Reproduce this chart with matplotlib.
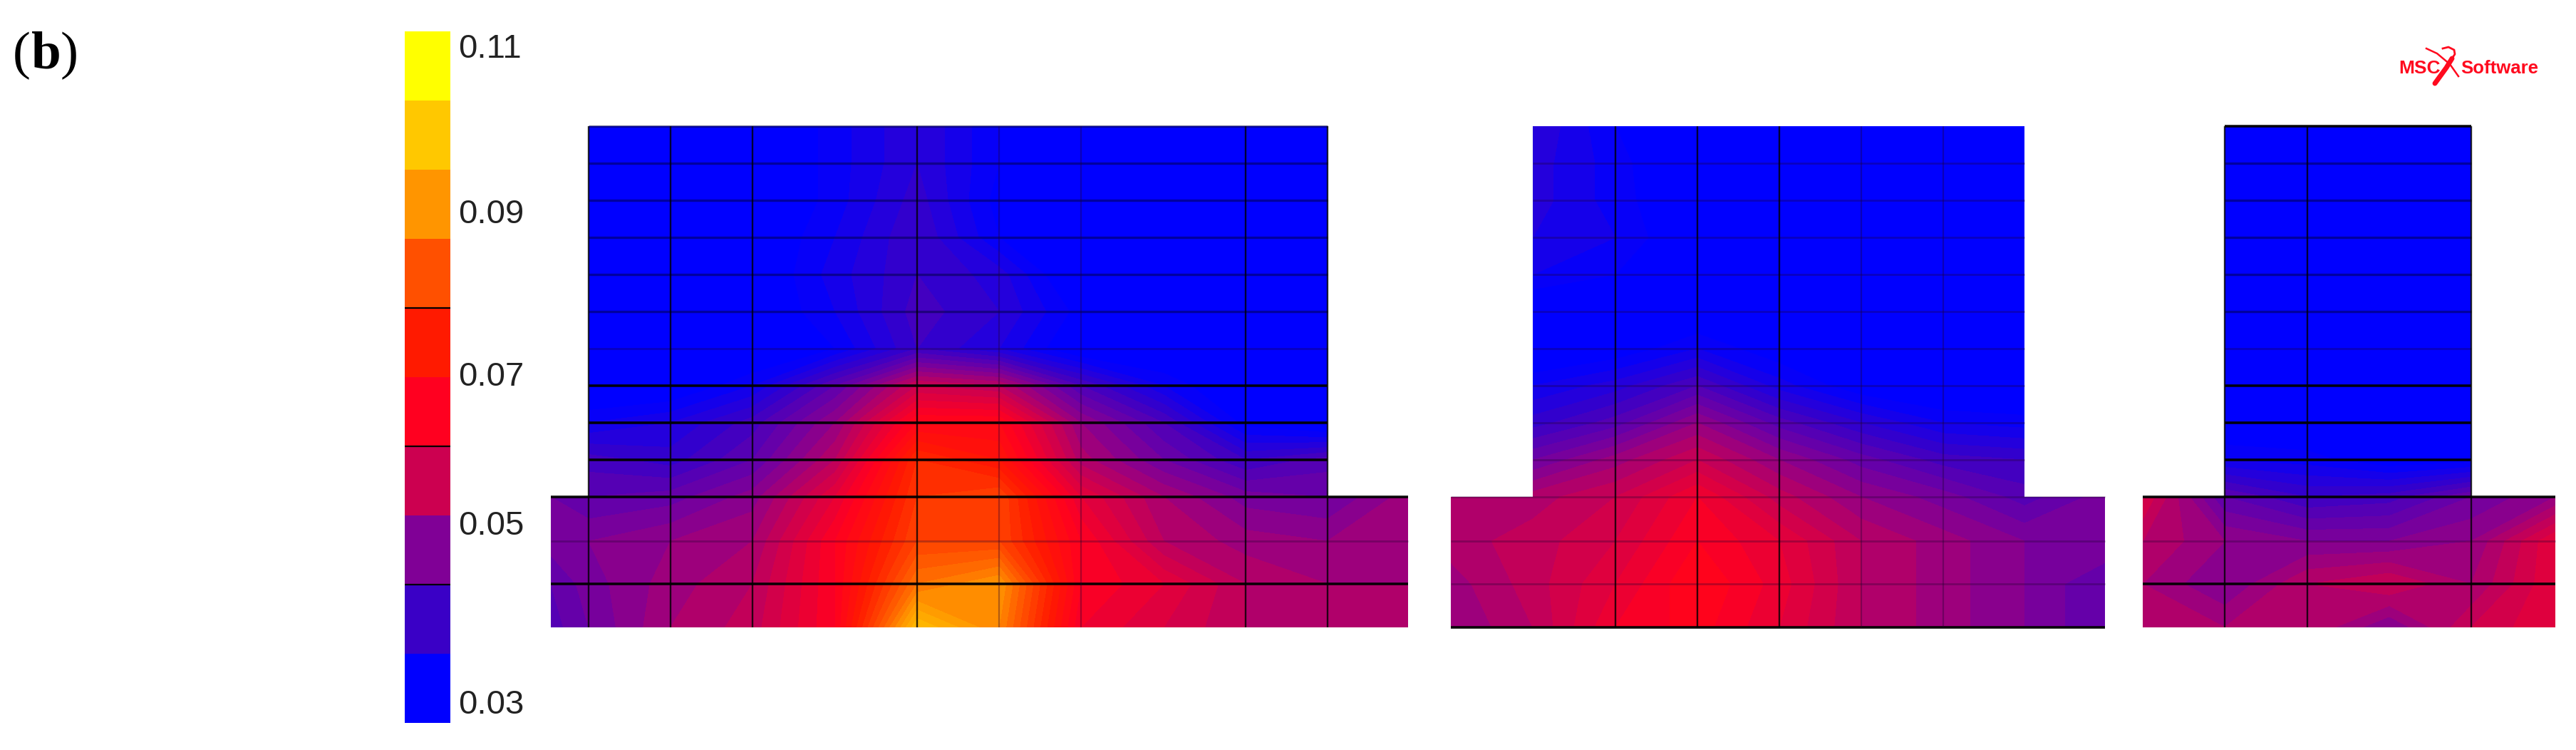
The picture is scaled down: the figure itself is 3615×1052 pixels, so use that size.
import numpy as np
import matplotlib
matplotlib.use("Agg")
import matplotlib.pyplot as plt
from matplotlib.colors import LinearSegmentedColormap

# Legend
band_colors = ["#0000ff", "#3a00c6", "#800096", "#cc0050", "#ff0020",
               "#ff1a00", "#ff5000", "#ff9500", "#ffc800", "#ffff00"]
band_edges = [0.03, 0.038, 0.046, 0.054, 0.062, 0.07, 0.078, 0.086, 0.094, 0.102, 0.11]
tick_labels = ["0.03", "0.05", "0.07", "0.09", "0.11"]
tick_values = [0.0321, 0.0528, 0.07, 0.0888, 0.1079]
dark_edges = [0.046, 0.062, 0.078]

# Mesh 1 (wide wall, long flange)
x1 = [0, 53, 168, 283, 399, 514, 629, 744, 860, 975, 1090, 1203]
y1_flange = [0, 61, 121, 183]
y1_web = [183, 235, 287, 339, 391, 443, 495, 547, 599, 651, 703]
flange1 = [
    [.045, .048, .054, .057, .066, .096, .088, .064, .060, .056, .055, .055],
    [.046, .049, .053, .056, .066, .086, .090, .066, .062, .056, .054, .054],
    [.049, .050, .052, .054, .066, .080, .080, .066, .056, .053, .052, .053],
    [.048, .046, .047, .051, .062, .078, .080, .062, .054, .049, .048, .053],
]
web1 = [
    [.043, .041, .046, .056, .076, .072, .055, .048, .042, .045],
    [.036, .038, .043, .052, .068, .068, .052, .044, .033, .030],
    [.030, .031, .036, .046, .058, .056, .044, .036, .030, .030],
    [.030, .030, .030, .034, .042, .038, .031, .030, .030, .030],
    [.030, .030, .031, .036, .043, .040, .033, .030, .030, .030],
    [.030, .030, .031, .037, .042, .039, .030, .030, .030, .030],
    [.030, .030, .031, .036, .042, .034, .030, .030, .030, .030],
    [.030, .030, .030, .035, .041, .033, .030, .030, .030, .030],
    [.030, .030, .030, .035, .040, .034, .031, .030, .030, .030],
    [.030, .030, .030, .035, .040, .034, .031, .030, .030, .030],
]
v1_dark = [53, 168, 283, 514, 975, 1090]
v1_faint = [629, 744]
h1_dark = [61, 183, 235, 287, 339]
h1_mid = [443, 495, 547, 599, 651, 703]
h1_faint = [121, 391]

# Mesh 2 (middle wall)
x2 = [0, 115, 231, 346, 461, 576, 691, 805, 918]
y2_flange = [0, 61, 121, 183]
y2_web = [183, 235, 287, 339, 391, 443, 495, 547, 599, 651, 703]
flange2 = [
    [.052, .056, .064, .067, .062, .056, .053, .050, .046],
    [.053, .057, .062, .068, .063, .056, .053, .050, .046],
    [.055, .057, .060, .066, .062, .056, .053, .050, .050],
    [.055, .055, .058, .064, .057, .052, .049, .045, .049],
]
web2 = [
    [.048, .053, .058, .052, .047, .043, .042],
    [.041, .045, .052, .045, .040, .036, .035],
    [.036, .039, .044, .037, .032, .030, .030],
    [.030, .032, .036, .032, .030, .030, .030],
    [.031, .033, .031, .030, .030, .030, .030],
    [.036, .034, .031, .030, .030, .030, .030],
    [.038, .036, .031, .030, .030, .030, .030],
    [.039, .035, .031, .030, .030, .030, .030],
    [.039, .035, .030, .030, .030, .030, .030],
    [.040, .034, .030, .030, .030, .030, .030],
]
v2_dark = [231, 346, 461]
v2_faint = [576, 691]
h2_dark = [0]
h2_mid = []
h2_faint = [61, 121, 183, 235, 287, 339, 391, 443, 495, 547, 599, 651]

# Mesh 3 (narrow wall)
x3 = [0, 115, 231, 346, 461, 579]
y3_flange = [0, 61, 121, 183]
y3_web = [183, 235, 287, 339, 391, 443, 495, 547, 599, 651, 703]
flange3 = [
    [.056, .054, .056, .050, .058, .062],
    [.054, .050, .056, .058, .054, .062],
    [.056, .052, .050, .050, .052, .062],
    [.060, .046, .042, .043, .048, .052],
]
web3 = [
    [.036, .035, .032, .033],
    [.031, .031, .031, .031],
    [.030, .030, .030, .030],
    [.030, .030, .030, .030],
    [.030, .030, .030, .030],
    [.030, .030, .030, .030],
    [.030, .030, .030, .030],
    [.030, .030, .030, .030],
    [.030, .030, .030, .030],
    [.030, .030, .030, .030],
]
v3_dark = [115, 231, 461]
v3_faint = []
h3_dark = [61, 183, 235, 287, 339, 703]
h3_mid = [443, 495, 547, 599, 651]
h3_faint = [121, 391]

W, H = 3616, 1052
fig = plt.figure(figsize=(W / 100, H / 100), dpi=100)
plt.rcParams["font.family"] = ["Liberation Sans", "DejaVu Sans"]


def place(left, top, width, height):
    ax = fig.add_axes([left / W, 1 - (top + height) / H, width / W, height / H])
    ax.axis("off")
    return ax


# each legend color sits at the center of its band
cmap = LinearSegmentedColormap.from_list(
    "marc",
    [(0, band_colors[0])] + [((i + 0.5) / 10, c) for i, c in enumerate(band_colors)] + [(1, band_colors[-1])],
    N=512)
levels = np.linspace(0.03, 0.11, 41)


def draw_mesh(left, top, xs, y_fl, y_web, flange, web, v_dark, v_faint, h_dark, h_mid, h_faint):
    xs = np.array(xs)
    flange = np.array(flange)
    web_rows = np.vstack([flange[-1, 1:-1], np.array(web)])
    ax = place(left, top, xs[-1], y_web[-1])
    ax.set_xlim(xs[0], xs[-1])
    ax.set_ylim(0, y_web[-1])
    for xx, yy, zz in [(xs, y_fl, flange), (xs[1:-1], y_web, web_rows)]:
        # drawn twice to close the seams between the bands
        ax.contourf(xx, yy, zz, levels=levels, cmap=cmap, vmin=0.03, vmax=0.11, extend="both")
        ax.contourf(xx, yy, zz, levels=levels, cmap=cmap, vmin=0.03, vmax=0.11, extend="both")

    def hline(y, color, lw, alpha):
        if y <= y_fl[-1]:
            ax.plot([xs[0], xs[-1]], [y, y], color=color, lw=lw, alpha=alpha, clip_on=False, solid_capstyle="butt")
        else:
            ax.plot([xs[1], xs[-2]], [y, y], color=color, lw=lw, alpha=alpha, clip_on=False, solid_capstyle="butt")

    for y in h_dark:
        hline(y, "black", 2.6, 0.95)
    for y in h_mid:
        hline(y, "#000040", 2.4, 0.5)
    for y in h_faint:
        hline(y, "#200030", 2.0, 0.3)
    for x in v_dark:
        ax.plot([x, x], [0, y_web[-1]], color="black", lw=1.7, alpha=0.8, solid_capstyle="butt")
    for x in v_faint:
        ax.plot([x, x], [0, y_web[-1]], color="#200030", lw=1.6, alpha=0.35, solid_capstyle="butt")
    return ax


draw_mesh(773, 177, x1, y1_flange, y1_web, flange1, web1, v1_dark, v1_faint, h1_dark, h1_mid, h1_faint)
draw_mesh(2036, 177, x2, y2_flange, y2_web, flange2, web2, v2_dark, v2_faint, h2_dark, h2_mid, h2_faint)
draw_mesh(3007, 177, x3, y3_flange, y3_web, flange3, web3, v3_dark, v3_faint, h3_dark, h3_mid, h3_faint)

# Color legend
bar_ax = place(568, 44, 64, 970)
bar_ax.set_xlim(0, 1)
bar_ax.set_ylim(band_edges[0], band_edges[-1])
for i, c in enumerate(band_colors):
    bar_ax.bar(0.5, band_edges[i + 1] - band_edges[i], bottom=band_edges[i], width=1, color=c)
for e in dark_edges:
    bar_ax.plot([0, 1], [e, e], color="black", lw=1.6)
for lab, val in zip(tick_labels, tick_values):
    bar_ax.text(1.18, val, lab, fontsize=34, va="center", ha="left", color="#222222", clip_on=False)

# Panel letter
fig.text(18 / W, 1 - 96 / H, "(", family="Liberation Serif", fontsize=54, color="black")
fig.text(44 / W, 1 - 96 / H, "b", family="Liberation Serif", fontsize=54, fontweight="bold", color="black")
fig.text(85 / W, 1 - 96 / H, ")", family="Liberation Serif", fontsize=54, color="black")

# Logo
red = "#ff0a1e"
fig.text(3366 / W, 1 - 103 / H, "MSC", fontsize=19, fontweight="bold", color=red)
fig.text(3453 / W, 1 - 103 / H, "Software", fontsize=18.5, fontweight="bold", color=red)
logo = place(3320, 40, 280, 90)
logo.set_xlim(0, 280)
logo.set_ylim(90, 0)
logo.plot([97, 105, 113, 121], [77, 66, 55, 42], color=red, lw=5, solid_capstyle="round")
logo.plot([85, 100, 118, 130], [28, 35, 50, 67], color=red, lw=1.8)
logo.plot([108, 116, 124, 125, 121], [28, 26, 30, 36, 42], color=red, lw=2)

fig.savefig("out.png", dpi=100, facecolor="white")
